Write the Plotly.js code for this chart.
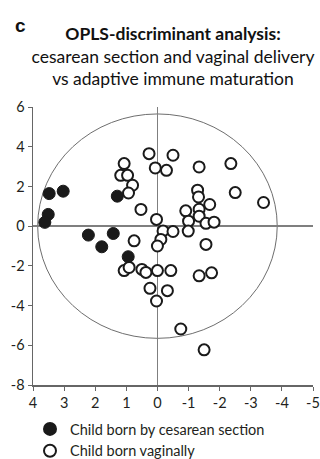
<!DOCTYPE html>
<html><head><meta charset="utf-8">
<script src="https://cdn.plot.ly/plotly-3.0.1.min.js"></script>
<style>html,body{margin:0;padding:0;background:#fff}#chart{width:320px;height:459px}</style>
</head><body><div id="chart"></div>
<script>
// Filled: child born by cesarean section
var cesareanX = [3.48, 3.03, 3.51, 3.62, 2.22, 1.79, 1.42, 1.29, 0.94];
var cesareanY = [1.64, 1.76, 0.59, 0.19, -0.45, -1.04, -0.37, 1.51, -1.54];
// Open: child born vaginally
var vaginalX = [0.27, -0.50, 1.07, 0.07, -0.29, 1.18, 0.96, 0.80, 0.93, 0.53, 0.03, -0.18, -0.50, -0.11, 0.00, 0.75,
  -1.34, -2.36, -1.29, -1.32, -2.50, -3.41, -1.68, -0.91, -1.34, -1.34, -1.00, -1.56, -1.82, -0.99, -1.56,
  1.07, 0.91, 0.50, 0.37, 0.00, -0.43, -1.34, -1.74, 0.24, -0.32, 0.03, -0.75, -1.50];
var vaginalY = [3.65, 3.57, 3.15, 2.93, 2.81, 2.56, 2.56, 2.06, 1.67, 0.84, 0.34, -0.24, -0.27, -0.67, -1.00, -0.74,
  2.98, 3.15, 1.81, 1.47, 1.69, 1.19, 1.09, 0.77, 0.85, 0.50, 0.25, 0.14, 0.20, -0.25, -0.92,
  -2.24, -2.08, -2.18, -2.33, -2.24, -2.24, -2.50, -2.35, -3.13, -3.25, -3.77, -5.18, -6.23];
var ellipseRadiusX = 3.85, ellipseRadiusY = 5.65;
var xTicks = [4, 3, 2, 1, 0, -1, -2, -3, -4, -5];
var yTicks = [-8, -6, -4, -2, 0, 2, 4, 6];

var FONT = 'Lato, "Open Sans", sans-serif';
var traces = [
  {x: cesareanX, y: cesareanY, mode: 'markers', type: 'scatter', name: 'Child born by cesarean section',
   marker: {size: 12, color: '#1a1a1a', line: {color: '#1a1a1a', width: 1}}},
  {x: vaginalX, y: vaginalY, mode: 'markers', type: 'scatter', name: 'Child born vaginally',
   marker: {size: 11, color: '#ffffff', line: {color: '#1a1a1a', width: 2}}}
];
var layout = {
  width: 320, height: 459,
  margin: {l: 33.3, r: 6.7, t: 106.6, b: 74, autoexpand: false},
  paper_bgcolor: '#fff', plot_bgcolor: '#fff',
  font: {family: FONT, color: '#231f20', size: 14},
  showlegend: true,
  title: {text: '<b>OPLS-discriminant analysis:</b><br>cesarean section and vaginal delivery<br>vs adaptive immune maturation',
    x: 0.5, xanchor: 'center', xref: 'paper', y: 0.913, yanchor: 'top', yref: 'container',
    font: {family: FONT, size: 17.5, color: '#111'}},
  xaxis: {range: [4, -5], tickvals: xTicks, ticktext: xTicks.map(String), showgrid: false,
    zeroline: true, zerolinecolor: '#7f7f7f', zerolinewidth: 1.5,
    showline: true, linecolor: '#666', linewidth: 1.5, ticks: 'outside', ticklen: 4, tickcolor: '#666',
    tickfont: {size: 14.5}, fixedrange: true, automargin: false},
  yaxis: {range: [-8, 6], tickvals: yTicks, ticktext: yTicks.map(String), showgrid: false,
    zeroline: true, zerolinecolor: '#7f7f7f', zerolinewidth: 1.5,
    showline: true, linecolor: '#666', linewidth: 1.5, ticks: 'outside', ticklen: 4, tickcolor: '#666',
    tickfont: {size: 14.5}, fixedrange: true, automargin: false},
  shapes: [{type: 'circle', xref: 'x', yref: 'y', x0: -ellipseRadiusX, x1: ellipseRadiusX,
    y0: -ellipseRadiusY, y1: ellipseRadiusY, line: {color: '#6e6e6e', width: 1}, layer: 'below'}],
  legend: {x: 30 / 320, xref: 'container', xanchor: 'left', y: 1 - 413 / 459, yref: 'container', yanchor: 'top',
    orientation: 'v', font: {family: FONT, size: 14.5, color: '#231f20'}, itemsizing: 'constant', tracegroupgap: 0,
    bgcolor: 'rgba(0,0,0,0)'},
  annotations: [{text: '<b>c</b>', xref: 'paper', yref: 'paper', x: -0.07, y: 1.0, yshift: 94,
    xanchor: 'left', yanchor: 'top', showarrow: false, font: {family: 'Liberation Sans, Arial', size: 19, color: '#111'}}]
};
Plotly.newPlot('chart', traces, layout, {displayModeBar: false, staticPlot: true});
</script></body></html>
